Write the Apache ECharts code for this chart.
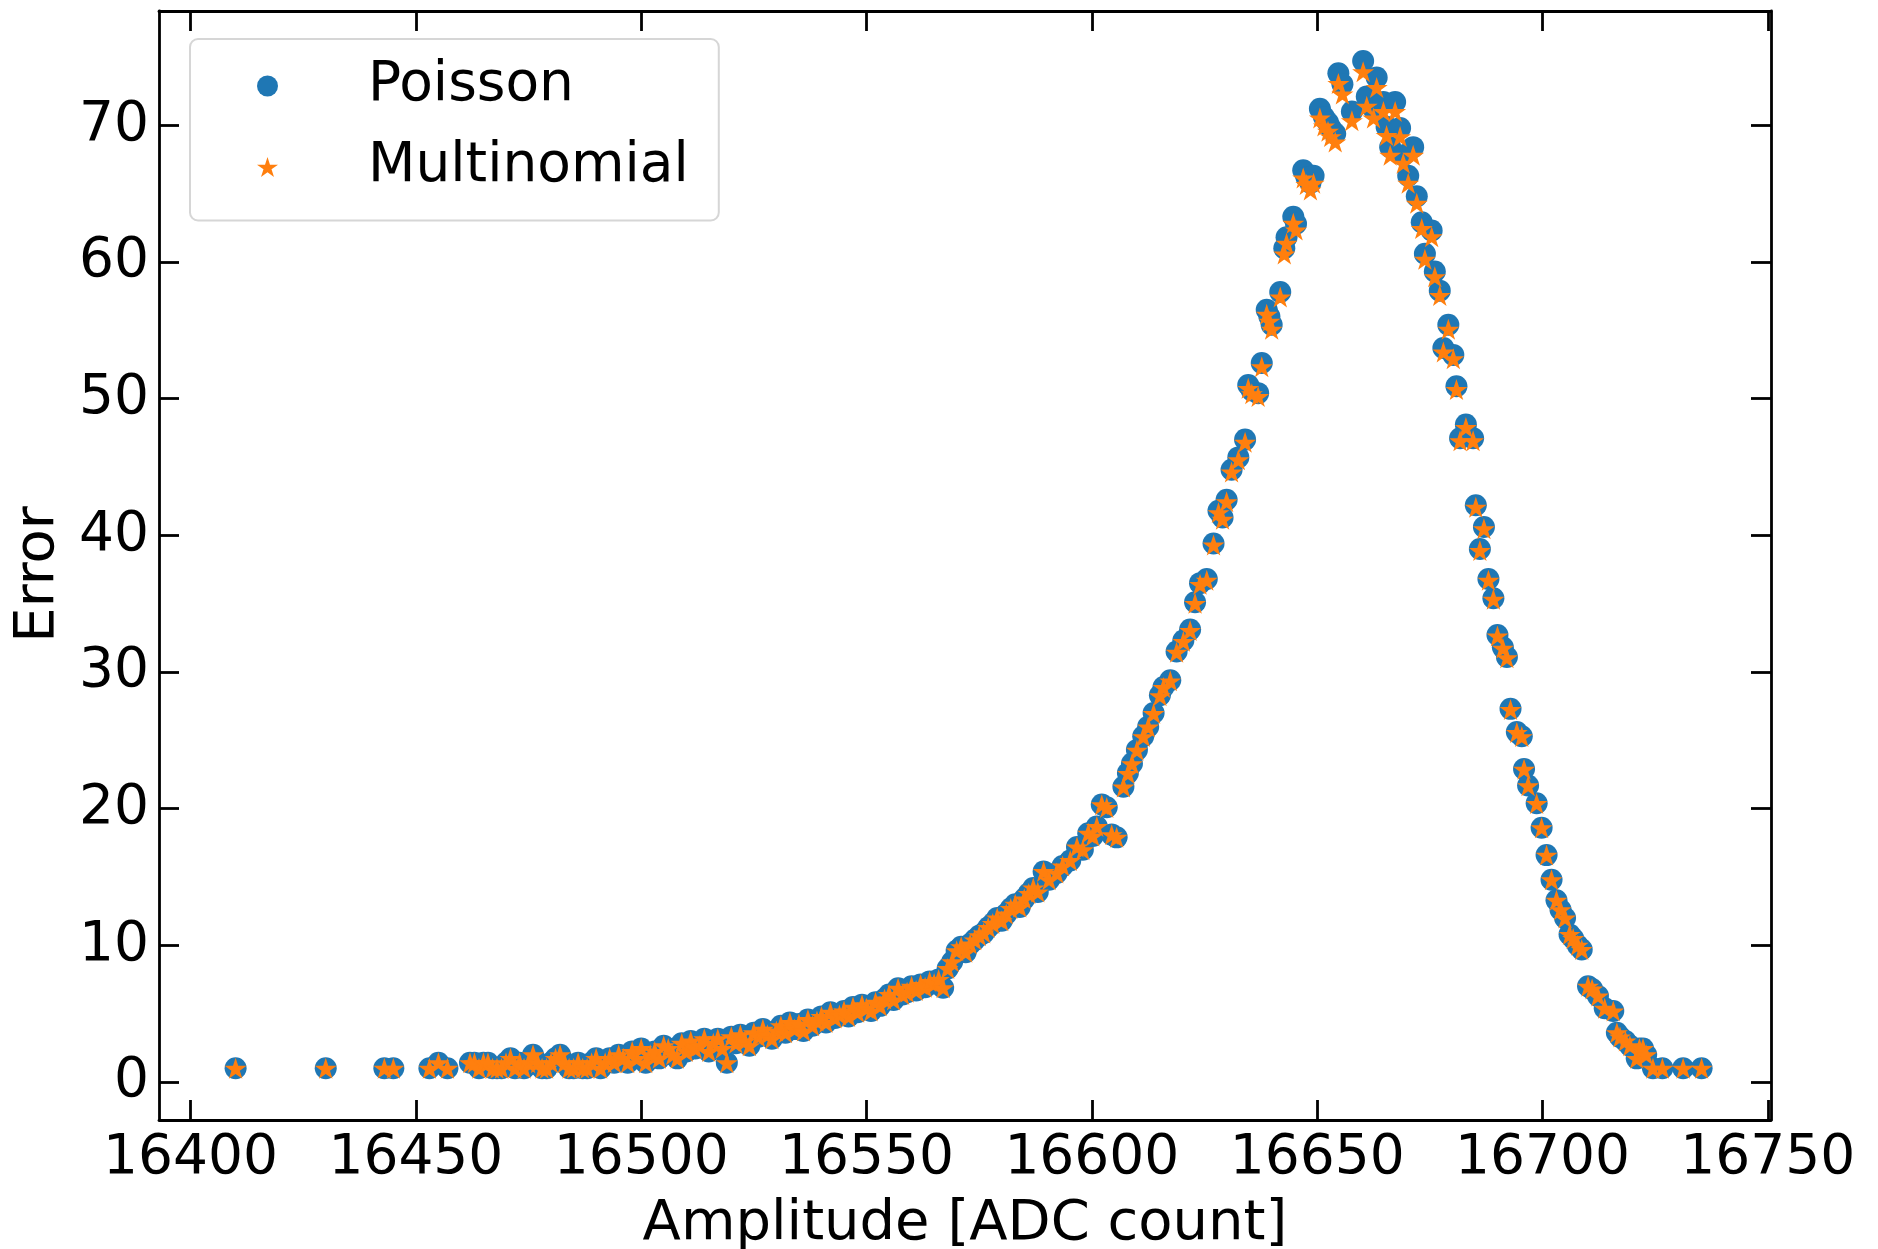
<!DOCTYPE html>
<html>
<head>
<meta charset="utf-8">
<title>Error vs amplitude</title>
<script src="https://cdn.jsdelivr.net/npm/echarts@6/dist/echarts.min.js"></script>
<style>
  html, body { margin: 0; padding: 0; background: #fff; }
  #chart { width: 1878px; height: 1249px; }
</style>
</head>
<body>
<div id="chart"></div>
<script>
// amplitude of each bin [ADC count]
const amplitude = [
  16410, 16430, 16443, 16445, 16453, 16455, 16457, 16462, 16463, 16464,
  16465, 16466, 16467, 16468, 16469, 16470, 16471, 16472, 16473, 16474,
  16475, 16476, 16477, 16478, 16479, 16480, 16481, 16482, 16483, 16484,
  16485, 16486, 16487, 16488, 16489, 16490, 16491, 16492, 16493, 16494,
  16495, 16496, 16497, 16498, 16499, 16500, 16501, 16502, 16503, 16504,
  16505, 16506, 16507, 16508, 16509, 16510, 16511, 16512, 16513, 16514,
  16515, 16516, 16517, 16518, 16519, 16520, 16521, 16522, 16523, 16524,
  16525, 16526, 16527, 16528, 16529, 16530, 16531, 16532, 16533, 16534,
  16535, 16536, 16537, 16538, 16539, 16540, 16541, 16542, 16543, 16544,
  16545, 16546, 16547, 16548, 16549, 16550, 16551, 16552, 16553, 16554,
  16555, 16556, 16557, 16558, 16559, 16560, 16561, 16562, 16563, 16564,
  16565, 16566, 16567, 16568, 16569, 16570, 16571, 16572, 16573, 16574,
  16575, 16576, 16577, 16578, 16579, 16580, 16581, 16582, 16583, 16584,
  16585, 16586, 16587, 16588, 16589.3, 16590.5, 16592.2, 16593.5, 16595.2, 16596.7,
  16598.0, 16599.2, 16600.2, 16601.1, 16602.2, 16603.3, 16604.4, 16605.5, 16607.0, 16608.0,
  16608.9, 16610.0, 16611.4, 16612.5, 16613.7, 16615.1, 16615.9, 16617.4, 16618.8, 16620.3,
  16621.8, 16622.9, 16624.0, 16625.5, 16627.0, 16628.1, 16629.0, 16629.9, 16631.0, 16632.5,
  16634.0, 16634.7, 16635.5, 16636.9, 16637.7, 16638.8, 16639.4, 16639.9, 16641.8, 16642.7,
  16643.2, 16644.7, 16645.3, 16646.9, 16647.6, 16648.5, 16649.2, 16650.6, 16651.5, 16652.4,
  16653.0, 16654.0, 16654.7, 16655.6, 16657.7, 16660.2, 16661.0, 16662.5, 16663.2, 16664.7,
  16665.4, 16666.2, 16667.3, 16668.4, 16669.1, 16670.2, 16671.3, 16672.1, 16673.2, 16673.9,
  16675.4, 16676.1, 16677.2, 16678.0, 16679.1, 16680.2, 16680.9, 16681.7, 16683.0, 16684.6,
  16685.2, 16686.1, 16687.0, 16688.0, 16689.1, 16690.0, 16691.2, 16692.1, 16692.9, 16694.3,
  16695.4, 16695.9, 16696.8, 16698.7, 16699.8, 16700.9, 16702.0, 16703.1, 16704.0, 16705.0,
  16706.0, 16706.8, 16707.8, 16708.7, 16710.1, 16711.0, 16712.3, 16713.8, 16715.7, 16716.5,
  16717.2, 16718.4, 16719.4, 16720.9, 16721.5, 16722.3, 16723.0, 16724.5, 16726.6, 16731.2,
  16735.3
];

const poissonError = [
  1, 1, 1, 1, 1, 1.41, 1, 1.41, 1.41, 1,
  1.41, 1.41, 1, 1, 1, 1.41, 1.73, 1, 1.41, 1,
  1.41, 2, 1.41, 1, 1, 1.41, 1.73, 2, 1.41, 1,
  1, 1.41, 1, 1, 1.41, 1.73, 1, 1.41, 1.73, 1.41,
  2, 1.73, 1.41, 2.24, 1.73, 2.45, 1.41, 2, 2.24, 1.73,
  2.65, 2.45, 2, 1.73, 2.83, 2.24, 3, 2.45, 2.65, 3.16,
  2.24, 2.83, 3.16, 2.45, 1.41, 3.32, 2.83, 3.46, 3, 2.65,
  3.61, 3.32, 3.87, 3.46, 3.16, 3.74, 4.12, 3.61, 4.36, 3.87,
  4.24, 3.74, 4.58, 4.12, 4.47, 4.8, 4.36, 5.1, 4.69, 4.9,
  5.2, 4.8, 5.48, 5.1, 5.66, 5.39, 5.2, 5.83, 5.57, 6.08,
  6.4, 6.0, 6.86, 6.4, 6.56, 7.0, 6.7, 7.14, 6.93, 7.35,
  7.2, 7.5, 6.9, 8.3, 8.8, 9.6, 9.9, 9.5, 10.1, 10.4,
  10.7, 10.9, 11.3, 11.6, 12.0, 11.8, 12.3, 12.7, 13.0, 12.8,
  13.4, 13.8, 14.2, 13.9, 15.4, 14.8, 15.3, 15.8, 16.2, 17.2,
  17.0, 18.2, 18.0, 18.7, 20.3, 20.1, 18.1, 17.9, 21.6, 22.6,
  23.3, 24.3, 25.3, 26.0, 27.0, 28.3, 28.9, 29.4, 31.5, 32.3,
  33.1, 35.1, 36.5, 36.8, 39.4, 41.8, 41.3, 42.6, 44.8, 45.7,
  47.0, 51.0, 50.6, 50.4, 52.6, 56.5, 56.0, 55.4, 57.8, 61.0,
  61.8, 63.3, 62.8, 66.7, 66.2, 65.8, 66.3, 71.2, 70.6, 70.2,
  69.8, 69.4, 73.8, 73.0, 71.0, 74.7, 72.1, 71.2, 73.5, 71.7,
  69.9, 68.4, 71.7, 69.8, 67.8, 66.3, 68.4, 64.8, 62.9, 60.6,
  62.3, 59.3, 57.9, 53.7, 55.4, 53.2, 50.9, 47.1, 48.1, 47.1,
  42.2, 39.0, 40.6, 36.8, 35.4, 32.7, 31.8, 31.1, 27.3, 25.6,
  25.3, 22.9, 21.7, 20.4, 18.6, 16.6, 14.8, 13.3, 12.6, 12.0,
  10.8, 10.5, 10.0, 9.7, 7.0, 6.8, 6.3, 5.4, 5.2, 3.6,
  3.3, 3.0, 2.65, 1.73, 2.45, 2.45, 2.0, 1, 1, 1,
  1
];

const multinomialError = [
  1, 1, 1, 1, 1, 1.41, 1, 1.41, 1.41, 1,
  1.41, 1.41, 1, 1, 1, 1.41, 1.73, 1, 1.41, 1,
  1.41, 2, 1.41, 1, 1, 1.41, 1.73, 2, 1.41, 1,
  1, 1.41, 1, 1, 1.41, 1.73, 1, 1.41, 1.73, 1.41,
  2, 1.73, 1.41, 2.24, 1.73, 2.45, 1.41, 2, 2.24, 1.73,
  2.65, 2.45, 2, 1.73, 2.83, 2.24, 3, 2.45, 2.65, 3.16,
  2.24, 2.83, 3.16, 2.45, 1.41, 3.32, 2.83, 3.46, 3, 2.65,
  3.61, 3.32, 3.87, 3.46, 3.16, 3.74, 4.12, 3.61, 4.36, 3.87,
  4.24, 3.74, 4.58, 4.12, 4.47, 4.8, 4.36, 5.1, 4.69, 4.9,
  5.2, 4.8, 5.48, 5.1, 5.66, 5.39, 5.2, 5.83, 5.57, 6.08,
  6.4, 6.0, 6.86, 6.4, 6.56, 7.0, 6.7, 7.14, 6.93, 7.35,
  7.2, 7.5, 6.9, 8.3, 8.8, 9.6, 9.9, 9.5, 10.1, 10.4,
  10.7, 10.9, 11.3, 11.6, 12.0, 11.8, 12.3, 12.7, 13.0, 12.8,
  13.4, 13.8, 14.2, 13.9, 15.4, 14.8, 15.3, 15.8, 16.2, 17.2,
  17.0, 18.2, 18.0, 18.7, 20.28, 20.08, 18.1, 17.9, 21.58, 22.58,
  23.28, 24.27, 25.27, 25.97, 26.96, 28.26, 28.86, 29.35, 31.44, 32.24,
  33.03, 35.02, 36.41, 36.71, 39.29, 41.66, 41.17, 42.46, 44.63, 45.52,
  46.81, 50.75, 50.36, 50.16, 52.33, 56.17, 55.67, 55.08, 57.44, 60.58,
  61.36, 62.83, 62.34, 66.15, 65.66, 65.27, 65.76, 70.53, 69.95, 69.56,
  69.17, 68.78, 73.05, 72.28, 70.33, 73.92, 71.40, 70.53, 72.76, 71.01,
  69.26, 67.80, 71.01, 69.17, 67.22, 65.76, 67.80, 64.29, 62.44, 60.19,
  61.85, 58.91, 57.54, 53.41, 55.08, 52.92, 50.66, 46.91, 47.89, 46.91,
  42.06, 38.89, 40.48, 36.71, 35.32, 32.64, 31.74, 31.04, 27.26, 25.57,
  25.27, 22.88, 21.68, 20.38, 18.6, 16.6, 14.8, 13.3, 12.6, 12.0,
  10.8, 10.5, 10.0, 9.7, 7.0, 6.8, 6.3, 5.4, 5.2, 3.6,
  3.3, 3.0, 2.65, 1.73, 2.45, 2.45, 2.0, 1, 1, 1,
  1
];

const xTicks = [16400, 16450, 16500, 16550, 16600, 16650, 16700, 16750];
const yTicks = [0, 10, 20, 30, 40, 50, 60, 70];

const X_MIN = 16393, X_MAX = 16750.7;
const Y_MIN = -2.78, Y_MAX = 78.36;

const FONT = 'DejaVu Sans';
const BLUE = '#1f77b4';
const ORANGE = '#ff7f0e';
const STAR = 'path://M100,0 L122.45,69.1 L195.1,69.1 L136.33,111.8 L158.8,180.9 L100,138.2 L41.2,180.9 L63.67,111.8 L4.9,69.1 L77.55,69.1 Z';

const chart = echarts.init(document.getElementById('chart'), null, { renderer: 'canvas' });

const frameLine = { show: true, onZero: false, lineStyle: { color: '#000', width: 2.8 } };
const tickStyle = { color: '#000', width: 2.8 };

const option = {
  animation: false,
  backgroundColor: '#fff',
  textStyle: { fontFamily: FONT },
  grid: { left: 159, top: 11, right: 107, bottom: 129, outerBoundsMode: 'none' },
  legend: {
    orient: 'vertical',
    left: 190,
    top: 39,
    padding: [17, 30, 23.5, 67],
    itemWidth: 21,
    itemHeight: 21,
    itemGap: 21,
    backgroundColor: '#fff',
    borderColor: '#d6d6d6',
    borderWidth: 2,
    borderRadius: 8,
    textStyle: { fontFamily: FONT, fontSize: 55, color: '#000', lineHeight: 40, padding: [20, 0, 0, 85] },
    data: [
      { name: 'Poisson', icon: 'circle' },
      { name: 'Multinomial', icon: STAR }
    ]
  },
  xAxis: [
    {
      type: 'value',
      position: 'bottom',
      min: X_MIN,
      max: X_MAX,
      name: 'Amplitude [ADC count]',
      nameLocation: 'middle',
      nameGap: 76,
      nameTextStyle: { fontFamily: FONT, fontSize: 56, color: '#000' },
      axisLine: frameLine,
      axisTick: { show: true, inside: true, length: 20, lineStyle: tickStyle, customValues: xTicks },
      axisLabel: {
        show: true, fontFamily: FONT, fontSize: 55, color: '#000', margin: 11.5,
        customValues: xTicks, formatter: v => String(v)
      },
      splitLine: { show: false }
    },
    {
      type: 'value',
      position: 'top',
      min: X_MIN,
      max: X_MAX,
      axisLine: frameLine,
      axisTick: { show: true, inside: true, length: 20, lineStyle: tickStyle, customValues: xTicks },
      axisLabel: { show: false },
      splitLine: { show: false }
    }
  ],
  yAxis: [
    {
      type: 'value',
      position: 'left',
      min: Y_MIN,
      max: Y_MAX,
      name: 'Error',
      nameLocation: 'middle',
      nameGap: 92.5,
      nameRotate: 90,
      nameTextStyle: { fontFamily: FONT, fontSize: 56, color: '#000', padding: [0, 18, 0, 0] },
      axisLine: frameLine,
      axisTick: { show: true, inside: true, length: 20, lineStyle: tickStyle, customValues: yTicks },
      axisLabel: {
        show: true, fontFamily: FONT, fontSize: 55, color: '#000', margin: 10,
        customValues: yTicks, formatter: v => String(v)
      },
      splitLine: { show: false }
    },
    {
      type: 'value',
      position: 'right',
      min: Y_MIN,
      max: Y_MAX,
      axisLine: frameLine,
      axisTick: { show: true, inside: true, length: 20, lineStyle: tickStyle, customValues: yTicks },
      axisLabel: { show: false },
      splitLine: { show: false }
    }
  ],
  series: [
    {
      name: 'Poisson',
      type: 'scatter',
      xAxisIndex: 0,
      yAxisIndex: 0,
      symbol: 'circle',
      symbolSize: 22,
      itemStyle: { color: BLUE, opacity: 1 },
      emphasis: { disabled: true },
      data: amplitude.map((a, i) => [a, poissonError[i]])
    },
    {
      name: 'Multinomial',
      type: 'scatter',
      xAxisIndex: 0,
      yAxisIndex: 0,
      symbol: STAR,
      symbolSize: [22, 21],
      itemStyle: { color: ORANGE, opacity: 1 },
      emphasis: { disabled: true },
      data: amplitude.map((a, i) => [a, multinomialError[i]])
    }
  ]
};

chart.setOption(option);
</script>
</body>
</html>
